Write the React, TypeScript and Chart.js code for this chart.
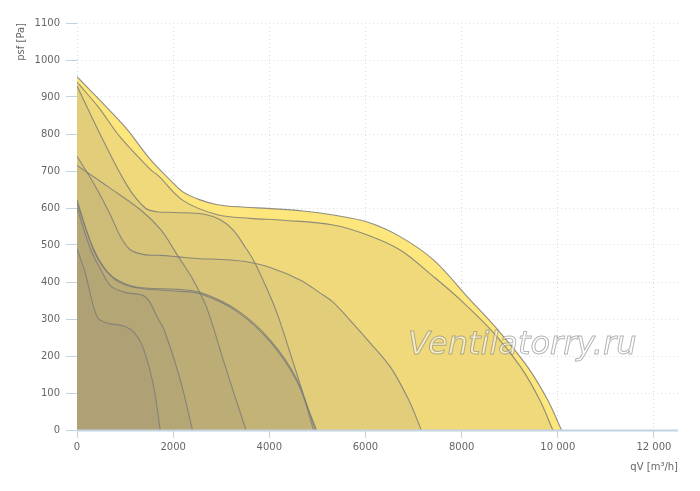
import { useEffect, useRef } from "react";
import { Chart, registerables } from "chart.js";

Chart.register(...registerables);

// fan curves: [qV m³/h, psf Pa]
const curveA = [[0, 955], [500, 888], [1000, 819], [1520, 732], [1980, 670], [2210, 643], [2560, 622], [2920, 609], [3500, 602], [3960, 599], [4700, 592], [5330, 581], [6040, 562], [6730, 522], [7420, 459], [8120, 360], [8810, 262], [9375, 170], [9790, 81], [10077, 0]];
const curveB = [[0, 940], [450, 872], [896, 792], [1520, 705], [1700, 686], [2210, 620], [2920, 582], [3600, 572], [4290, 567], [5330, 554], [6040, 527], [6730, 486], [7420, 414], [7980, 351], [8670, 262], [9230, 170], [9625, 81], [9896, 0]];
const curveC = [[0, 930], [540, 784], [1060, 657], [1417, 600], [1650, 590], [2040, 588], [2625, 584], [2980, 568], [3250, 540], [3500, 494], [3670, 459], [3870, 405], [4160, 316], [4500, 181], [4790, 65], [4980, 0]];
const curveD = [[0, 740], [375, 660], [700, 580], [900, 524], [1100, 488], [1400, 474], [1750, 472], [2100, 468], [2560, 463], [3000, 461], [3460, 456], [4000, 440], [4650, 405], [5060, 370], [5330, 345], [5690, 295], [6100, 235], [6520, 170], [6900, 81], [7160, 0]];
const curveE = [[0, 715], [650, 657], [1350, 592], [1750, 540], [2100, 470], [2420, 405], [2700, 330], [3040, 190], [3290, 89], [3514, 0]];
const curveF = [[0, 490], [170, 425], [420, 305], [625, 289], [1000, 280], [1200, 262], [1350, 230], [1500, 170], [1620, 100], [1730, 0]];
const curveG = [[0, 600], [290, 486], [500, 432], [710, 388], [1000, 372], [1420, 360], [1690, 300], [1830, 265], [2150, 135], [2400, 0]];
const curveH = [[0, 622], [330, 490], [580, 435], [850, 405], [1270, 386], [2100, 380], [2560, 372], [3330, 324], [4020, 243], [4580, 135], [4920, 0]];
const curveI = [[0, 612], [350, 488], [600, 432], [870, 400], [1300, 383], [2100, 375], [2560, 368], [3330, 320], [4020, 238], [4580, 130], [4960, 0]];

const innerCurves = [curveB, curveC, curveD, curveE, curveF, curveG, curveH, curveI];

const xTicks = [0, 2000, 4000, 6000, 8000, 10000, 12000];
const yMax = 1100;
const xMax = 12500;

const axisColor = "#c4d3e1";

const decorations = {
  id: "decorations",
  afterDatasetsDraw(chart: Chart) {
    const { ctx, chartArea } = chart;
    ctx.save();
    ctx.strokeStyle = axisColor;
    ctx.lineWidth = 2;
    ctx.beginPath();
    ctx.moveTo(chartArea.left, chartArea.bottom + 0.5);
    ctx.lineTo(chartArea.right, chartArea.bottom + 0.5);
    ctx.stroke();
    ctx.restore();
  },
  afterDraw(chart: Chart) {
    const { ctx, chartArea } = chart;
    ctx.save();
    ctx.font = 'italic 32px "DejaVu Sans"';
    ctx.textBaseline = "alphabetic";
    ctx.textAlign = "left";
    const x = chartArea.left + 331;
    const y = chartArea.top + 331;
    ctx.fillStyle = "rgba(255,255,255,0.55)";
    ctx.fillText("Ventilatorry.ru", x, y);
    ctx.lineWidth = 1;
    ctx.strokeStyle = "rgba(120,120,120,0.55)";
    ctx.strokeText("Ventilatorry.ru", x, y);
    ctx.restore();
  },
};

const toPts = (c: number[][]) => c.map(([x, y]) => ({ x, y }));

export default function App() {
  const canvasRef = useRef<HTMLCanvasElement>(null);

  useEffect(() => {
    if (!canvasRef.current) return;
    const lineStyle = {
      borderColor: "rgba(125,125,120,0.85)",
      borderWidth: 1.1,
      pointRadius: 0,
      tension: 0.35,
      fill: "origin",
    };
    const tickFont = { family: "DejaVu Sans", size: 10 };
    const chart = new Chart(canvasRef.current, {
      type: "line",
      data: {
        datasets: [
          ...innerCurves.map((c, i) => ({
            ...lineStyle,
            label: "c" + i,
            data: toPts(c),
            backgroundColor: "rgba(125,120,115,0.11)",
          })),
          {
            ...lineStyle,
            label: "A",
            data: toPts(curveA),
            backgroundColor: "#fde67c",
          },
        ],
      },
      options: {
        responsive: true,
        maintainAspectRatio: false,
        animation: false,
        layout: { padding: { top: 23, right: 22, bottom: 0, left: 0 } },
        plugins: {
          legend: { display: false },
          tooltip: { enabled: false },
          filler: { drawTime: "beforeDatasetsDraw" },
        },
        scales: {
          x: {
            type: "linear",
            min: 0,
            max: xMax,
            afterFit: (s: any) => { s.height = 61; },
            afterBuildTicks: (s: any) => { s.ticks = xTicks.map((v) => ({ value: v })); },
            ticks: {
              padding: 3,
              color: "#666",
              font: tickFont,
              maxRotation: 0,
              callback: (v: any) => (v >= 10000 ? String(v).replace(/(\d)(\d{3})$/, "$1 $2") : String(v)),
            },
            grid: {
              color: "#dcdcdc",
              tickColor: axisColor,
              tickLength: 8,
              tickBorderDash: [],
            },
            border: { display: false, dash: [1, 3] },
            title: {
              display: true,
              text: "qV [m³/h]",
              align: "end",
              color: "#666",
              font: tickFont,
              padding: { top: 0, bottom: 18 },
            },
          },
          y: {
            min: 0,
            max: yMax,
            afterFit: (s: any) => { s.width = 77; },
            ticks: {
              stepSize: 100,
              padding: 6,
              color: "#666",
              font: tickFont,
              callback: (v: any) => String(v),
            },
            grid: {
              color: "#dcdcdc",
              tickColor: axisColor,
              tickLength: 11,
              tickBorderDash: [],
            },
            border: { display: false, dash: [1, 3] },
            title: {
              display: true,
              text: "psf [Pa]",
              align: "end",
              color: "#666",
              font: tickFont,
              padding: { top: 15, bottom: 0 },
            },
          },
        },
      },
      plugins: [decorations],
    });
    return () => chart.destroy();
  }, []);

  return (
    <div style={{ position: "absolute", left: 0, top: 0, width: 700, height: 491, background: "#fff" }}>
      <canvas ref={canvasRef} />
    </div>
  );
}
